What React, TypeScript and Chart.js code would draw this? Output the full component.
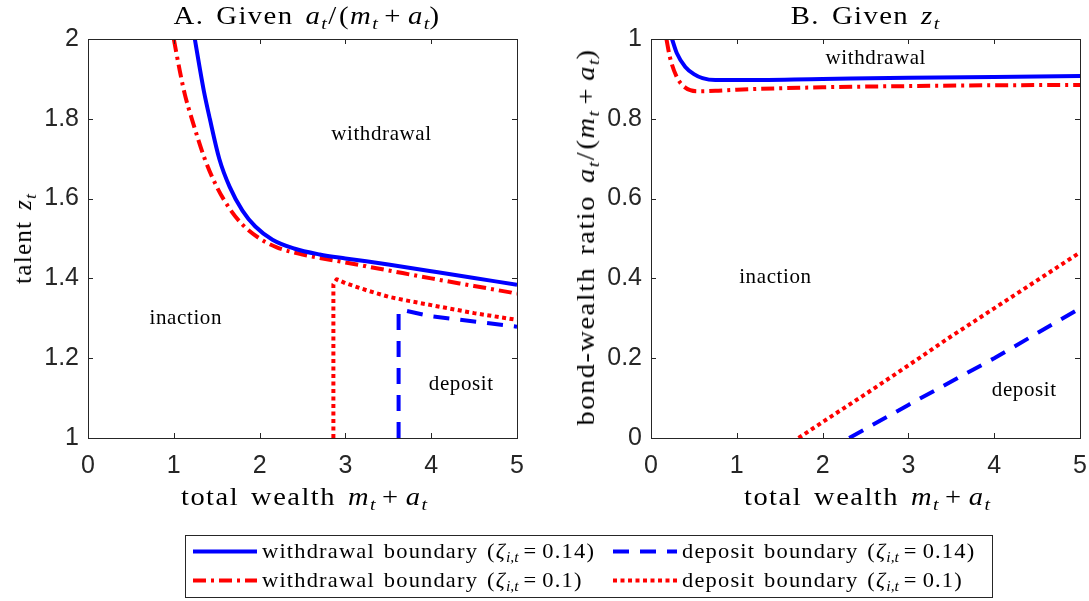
import React, { useEffect, useRef } from "react";
import { Chart, registerables } from "chart.js";

Chart.register(...registerables);

// ---------- data ----------
const xTicks = [0, 1, 2, 3, 4, 5];
const yTicksA = [1, 1.2, 1.4, 1.6, 1.8, 2];
const yTicksB = [0, 0.2, 0.4, 0.6, 0.8, 1];

// Panel A: talent z vs total wealth
const withdrawA14_x = [1.245, 1.3, 1.35, 1.42, 1.53, 1.65, 1.8, 1.95, 2.15, 2.4, 2.7, 3, 3.5, 4, 4.5, 5];
const withdrawA14_y = [2.0, 1.93, 1.87, 1.8, 1.7, 1.63, 1.57, 1.53, 1.497, 1.475, 1.46, 1.45, 1.435, 1.418, 1.401, 1.384];
const withdrawA10_x = [1.0, 1.07, 1.13, 1.21, 1.36, 1.5, 1.65, 1.8, 2.0, 2.2, 2.5, 3, 3.5, 4, 4.5, 5];
const withdrawA10_y = [2.0, 1.92, 1.86, 1.8, 1.7, 1.63, 1.575, 1.535, 1.5, 1.478, 1.46, 1.44, 1.42, 1.4, 1.381, 1.362];
const depositA14_x = [3.62, 3.62, 3.66, 4, 4.5, 5];
const depositA14_y = [1.0, 1.315, 1.321, 1.305, 1.292, 1.279];
const depositA10_x = [2.86, 2.86, 2.9, 3.0, 3.25, 3.5, 3.75, 4, 4.5, 5];
const depositA10_y = [1.0, 1.385, 1.398, 1.388, 1.37, 1.354, 1.343, 1.333, 1.313, 1.296];

// Panel B: bond-wealth ratio vs total wealth
const withdrawB14_x = [0.245, 0.3, 0.4, 0.5, 0.6, 0.75, 1, 2, 3, 4, 5];
const withdrawB14_y = [1.0, 0.965, 0.93, 0.912, 0.902, 0.897, 0.897, 0.9, 0.903, 0.905, 0.907];
const withdrawB10_x = [0.18, 0.22, 0.3, 0.4, 0.55, 0.75, 1, 2, 3, 4, 5];
const withdrawB10_y = [1.0, 0.955, 0.905, 0.878, 0.869, 0.87, 0.873, 0.879, 0.882, 0.884, 0.885];
const depositB14_x = [2.31, 3, 4, 5];
const depositB14_y = [0, 0.083, 0.2, 0.325];
const depositB10_x = [1.72, 2, 2.5, 3, 3.5, 4, 4.5, 5];
const depositB10_y = [0, 0.04, 0.11, 0.182, 0.255, 0.325, 0.395, 0.465];

// region labels
const regionTextsA = ["withdrawal", "inaction", "deposit"];
const regionXA = [3.42, 1.14, 4.35];
const regionYA = [1.76, 1.3, 1.135];
const regionTextsB = ["withdrawal", "inaction", "deposit"];
const regionXB = [2.62, 1.45, 4.35];
const regionYB = [0.952, 0.402, 0.12];

// ---------- styles ----------
const BLUE = "#0000ff";
const RED = "#ff0000";
const AXIS = "#262626";
const SERIF = '"Liberation Serif", "DejaVu Serif", serif';
const SANS = '"Liberation Sans", Arial, sans-serif';

const DASH_SOLID: number[] = [];
const DASH_DASHDOT = [13, 5, 3, 5];
const DASH_DASHED = [16, 11];
const DASH_DOTTED = [4, 3.5];

const zip = (xs: number[], ys: number[]) => xs.map((x, i) => ({ x, y: ys[i] }));

const framePlugin = {
  id: "frame",
  afterDatasetsDraw(chart: any, _args: any, opts: any) {
    const { ctx, chartArea, scales } = chart;
    const { left, right, top, bottom } = chartArea;
    ctx.save();
    ctx.strokeStyle = AXIS;
    ctx.lineWidth = 1;
    ctx.setLineDash([]);
    ctx.strokeRect(Math.round(left) + 0.5, Math.round(top) + 0.5, Math.round(right - left), Math.round(bottom - top));
    const tl = 5;
    ctx.beginPath();
    scales.x.ticks.forEach((t: any) => {
      const px = Math.round(scales.x.getPixelForValue(t.value)) + 0.5;
      ctx.moveTo(px, bottom);
      ctx.lineTo(px, bottom - tl);
      ctx.moveTo(px, top);
      ctx.lineTo(px, top + tl);
    });
    scales.y.ticks.forEach((t: any) => {
      const py = Math.round(scales.y.getPixelForValue(t.value)) + 0.5;
      ctx.moveTo(left, py);
      ctx.lineTo(left + tl, py);
      ctx.moveTo(right, py);
      ctx.lineTo(right - tl, py);
    });
    ctx.stroke();
    // region labels
    ctx.fillStyle = "#000";
    ctx.font = `21px ${SERIF}`;
    try {
      (ctx as any).letterSpacing = "0.6px";
    } catch (e) {}
    ctx.textAlign = "center";
    ctx.textBaseline = "middle";
    const texts: string[] = opts.texts || [];
    texts.forEach((s, i) => {
      ctx.fillText(s, scales.x.getPixelForValue(opts.xs[i]), scales.y.getPixelForValue(opts.ys[i]));
    });
    ctx.restore();
  },
};

function makeConfig(
  datasets: any[],
  yMin: number,
  yMax: number,
  yTicks: number[],
  canvasW: number,
  canvasH: number,
  areaLeft: number,
  areaRight: number,
  areaTop: number,
  areaBottom: number,
  labels: { texts: string[]; xs: number[]; ys: number[] }
) {
  return {
    type: "line" as const,
    data: { datasets },
    plugins: [framePlugin],
    options: {
      animation: false as const,
      responsive: false,
      maintainAspectRatio: false,
      devicePixelRatio: 1,
      parsing: false as const,
      layout: { padding: { left: 0, top: areaTop, right: canvasW - areaRight, bottom: 0 } },
      plugins: {
        legend: { display: false },
        tooltip: { enabled: false },
        frame: labels,
      },
      elements: { point: { radius: 0 } },
      scales: {
        x: {
          type: "linear" as const,
          min: 0,
          max: 5,
          afterBuildTicks: (s: any) => {
            s.ticks = xTicks.map((v) => ({ value: v }));
          },
          afterFit: (s: any) => {
            s.height = canvasH - areaBottom;
          },
          ticks: {
            color: AXIS,
            font: { family: SANS, size: 25 },
            padding: 13,
            maxRotation: 0,
            callback: (v: any) => String(Number(Number(v).toFixed(2))),
          },
          grid: { display: false, drawTicks: false },
          border: { display: false },
        },
        y: {
          type: "linear" as const,
          min: yMin,
          max: yMax,
          afterBuildTicks: (s: any) => {
            s.ticks = yTicks.map((v) => ({ value: v }));
          },
          afterFit: (s: any) => {
            s.width = areaLeft;
          },
          ticks: {
            color: AXIS,
            font: { family: SANS, size: 25 },
            padding: 9,
            callback: (v: any) => String(Number(Number(v).toFixed(2))),
          },
          grid: { display: false, drawTicks: false },
          border: { display: false },
        },
      },
    },
  };
}

function ds(label: string, xs: number[], ys: number[], color: string, dash: number[], smooth: boolean) {
  return {
    label,
    data: zip(xs, ys),
    borderColor: color,
    backgroundColor: color,
    borderWidth: 4,
    borderDash: dash,
    borderCapStyle: "butt",
    borderJoinStyle: "round",
    pointRadius: 0,
    fill: false,
    cubicInterpolationMode: smooth ? "monotone" : "default",
    tension: 0,
  };
}

const I = ({ children }: { children: React.ReactNode }) => <i style={{ fontStyle: "italic" }}>{children}</i>;
const Sub = ({ children }: { children: React.ReactNode }) => (
  <sub style={{ fontSize: "0.7em", verticalAlign: "-0.3em", lineHeight: 0, fontStyle: "italic", letterSpacing: 0 }}>
    {children}
  </sub>
);
const Op = ({ children }: { children: React.ReactNode }) => (
  <span style={{ margin: "0 0.22em" }}>{children}</span>
);
const Frac = () => (
  <>
    <I>a</I>
    <Sub>t</Sub>
    <span style={{ margin: "0 0.05em" }}>/</span>(<I>m</I>
    <Sub>t</Sub>
    <Op>+</Op>
    <I>a</I>
    <Sub>t</Sub>)
  </>
);

function Panel({
  left,
  width,
  height,
  build,
}: {
  left: number;
  width: number;
  height: number;
  build: (w: number, h: number) => any;
}) {
  const ref = useRef<HTMLCanvasElement>(null);
  useEffect(() => {
    if (!ref.current) return;
    const chart = new Chart(ref.current, build(width, height));
    return () => chart.destroy();
  }, []);
  return (
    <canvas
      ref={ref}
      width={width}
      height={height}
      style={{ position: "absolute", left, top: 0, width, height }}
    />
  );
}

function LegendLine({ color, dash }: { color: string; dash: number[] }) {
  return (
    <svg width={64} height={10} style={{ display: "block" }}>
      <line
        x1={0}
        y1={5}
        x2={64}
        y2={5}
        stroke={color}
        strokeWidth={4}
        strokeDasharray={dash.length ? dash.join(" ") : undefined}
      />
    </svg>
  );
}

export default function App() {
  const txt: React.CSSProperties = { position: "absolute", fontFamily: SERIF, color: "#000", whiteSpace: "nowrap" };
  const labelStyle: React.CSSProperties = { ...txt, fontSize: 25, letterSpacing: "1.3px", wordSpacing: "3px" };
  const titleStyle: React.CSSProperties = { ...txt, fontSize: 25, letterSpacing: "1.2px", wordSpacing: "3px" };
  const legendItems = [
    { color: BLUE, dash: DASH_SOLID, kind: "withdrawal", z: "0.14", x: 193, y: 551 },
    { color: BLUE, dash: DASH_DASHED, kind: "deposit", z: "0.14", x: 613, y: 551 },
    { color: RED, dash: DASH_DASHDOT, kind: "withdrawal", z: "0.1", x: 193, y: 580 },
    { color: RED, dash: DASH_DOTTED, kind: "deposit", z: "0.1", x: 613, y: 580 },
  ];
  return (
    <div
      style={{
        position: "absolute",
        left: 0,
        top: 0,
        width: 1089,
        height: 601,
        background: "#fff",
        overflow: "hidden",
      }}
    >
      <Panel
        left={0}
        width={545}
        height={500}
        build={(w, h) =>
          makeConfig(
            [
              ds("withdrawal 0.14", withdrawA14_x, withdrawA14_y, BLUE, DASH_SOLID, true),
              ds("withdrawal 0.1", withdrawA10_x, withdrawA10_y, RED, DASH_DASHDOT, true),
              ds("deposit 0.14", depositA14_x, depositA14_y, BLUE, DASH_DASHED, false),
              ds("deposit 0.1", depositA10_x, depositA10_y, RED, DASH_DOTTED, false),
            ],
            1,
            2,
            yTicksA,
            w,
            h,
            88,
            517,
            39,
            438,
            { texts: regionTextsA, xs: regionXA, ys: regionYA }
          )
        }
      />
      <Panel
        left={545}
        width={580}
        height={500}
        build={(w, h) =>
          makeConfig(
            [
              ds("withdrawal 0.14", withdrawB14_x, withdrawB14_y, BLUE, DASH_SOLID, true),
              ds("withdrawal 0.1", withdrawB10_x, withdrawB10_y, RED, DASH_DASHDOT, true),
              ds("deposit 0.14", depositB14_x, depositB14_y, BLUE, DASH_DASHED, false),
              ds("deposit 0.1", depositB10_x, depositB10_y, RED, DASH_DOTTED, false),
            ],
            0,
            1,
            yTicksB,
            w,
            h,
            106,
            535,
            39,
            438,
            { texts: regionTextsB, xs: regionXB, ys: regionYB }
          )
        }
      />
      {/* titles */}
      <div style={{ ...titleStyle, left: 307, top: 16, transform: "translate(-50%, -50%) scaleX(1.15)" }}>
        A. Given <Frac />
      </div>
      <div style={{ ...titleStyle, left: 865, top: 16, transform: "translate(-50%, -50%) scaleX(1.15)" }}>
        B. Given <I>z</I>
        <Sub>t</Sub>
      </div>
      {/* x labels */}
      <div style={{ ...labelStyle, left: 304, top: 497, transform: "translate(-50%, -50%) scaleX(1.14)" }}>
        total wealth <I>m</I>
        <Sub>t</Sub>
        <Op>+</Op>
        <I>a</I>
        <Sub>t</Sub>
      </div>
      <div style={{ ...labelStyle, left: 867, top: 497, transform: "translate(-50%, -50%) scaleX(1.14)" }}>
        total wealth <I>m</I>
        <Sub>t</Sub>
        <Op>+</Op>
        <I>a</I>
        <Sub>t</Sub>
      </div>
      {/* y labels */}
      <div
        style={{
          ...labelStyle,
          left: 23,
          top: 239,
          transform: "translate(-50%, -50%) rotate(-90deg)",
        }}
      >
        talent <I>z</I>
        <Sub>t</Sub>
      </div>
      <div
        style={{
          ...labelStyle,
          left: 586,
          top: 237,
          transform: "translate(-50%, -50%) rotate(-90deg) scaleX(1.14)",
        }}
      >
        bond-wealth ratio <Frac />
      </div>
      {/* legend */}
      <div
        style={{
          position: "absolute",
          left: 185,
          top: 535,
          width: 806,
          height: 61,
          border: `1px solid ${AXIS}`,
          background: "#fff",
        }}
      />
      {legendItems.map((it, i) => (
        <div
          key={i}
          style={{
            position: "absolute",
            left: it.x,
            top: it.y,
            transform: "translateY(-50%)",
            display: "flex",
            alignItems: "center",
          }}
        >
          <LegendLine color={it.color} dash={it.dash} />
          <span
            style={{
              fontFamily: SERIF,
              fontSize: 21,
              marginLeft: 5,
              whiteSpace: "nowrap",
              lineHeight: 1,
              letterSpacing: "1.1px",
              wordSpacing: "2px",
              display: "inline-block",
              transform: "scaleX(1.07)",
              transformOrigin: "left center",
            }}
          >
            {it.kind} boundary (<I>ζ</I>
            <Sub>i,t</Sub>
            <Op>=</Op>
            {it.z})
          </span>
        </div>
      ))}
    </div>
  );
}
